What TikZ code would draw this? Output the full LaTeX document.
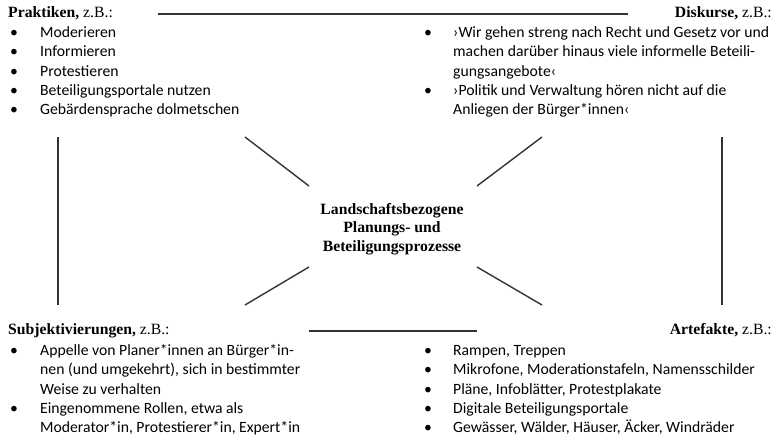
\documentclass[tikz,border=0pt]{standalone}
\usepackage{fontspec}
\setmainfont{Liberation Serif}
\newfontfamily\listfont{Carlito}
\usetikzlibrary{positioning}

\newcommand{\headline}[1]{\textbf{#1,} z.B.:}

\tikzset{
  head/.style={inner sep=0pt,font=\fontsize{15.7}{18.5}\selectfont},
  itemlist/.style={inner sep=0pt,anchor=base west,align=left,
    font=\listfont\fontsize{15.7}{19.3}\selectfont},
  link/.style={line width=1.4pt,black!80},
}

\begin{document}
\begin{tikzpicture}[x=1pt,y=-1pt]
  \useasboundingbox (0,0) rectangle (780,436);

  % Kopfzeilen der vier Ecken
  \node[head,anchor=base west] (prak) at (8,18) {\headline{Praktiken}};
  \node[head,anchor=base east] (disk) at (772,18) {\headline{Diskurse}};
  \node[head,anchor=base west] (subj) at (8,334) {\headline{Subjektivierungen}};
  \node[head,anchor=base east] (arte) at (772,334) {\headline{Artefakte}};

  % Listen
  \node[itemlist] (praklist) at (10,37.5) {\begin{tabular}[t]{@{}p{30pt}@{}l@{}}
    \textbullet & Moderieren\\
    \textbullet & Informieren\\
    \textbullet & Protestieren\\
    \textbullet & Beteiligungsportale nutzen\\
    \textbullet & Gebärdensprache dolmetschen
  \end{tabular}};
  \node[itemlist] (disklist) at (424,37.5) {\begin{tabular}[t]{@{}p{29pt}@{}l@{}}
    \textbullet & ›Wir gehen streng nach Recht und Gesetz vor und\\
                & machen darüber hinaus viele informelle Beteili-\\
                & gungsangebote‹\\
    \textbullet & ›Politik und Verwaltung hören nicht auf die\\
                & Anliegen der Bürger*innen‹
  \end{tabular}};
  \node[itemlist] (subjlist) at (10,355.5) {\begin{tabular}[t]{@{}p{30pt}@{}l@{}}
    \textbullet & Appelle von Planer*innen an Bürger*in-\\
                & nen (und umgekehrt), sich in bestimmter\\
                & Weise zu verhalten\\
    \textbullet & Eingenommene Rollen, etwa als\\
                & Moderator*in, Protestierer*in, Expert*in
  \end{tabular}};
  \node[itemlist] (artelist) at (424,355.5) {\begin{tabular}[t]{@{}p{29pt}@{}l@{}}
    \textbullet & Rampen, Treppen\\
    \textbullet & Mikrofone, Moderationstafeln, Namensschilder\\
    \textbullet & Pläne, Infoblätter, Protestplakate\\
    \textbullet & Digitale Beteiligungsportale\\
    \textbullet & Gewässer, Wälder, Häuser, Äcker, Windräder
  \end{tabular}};

  % Mitte
  \node[head,align=center,font=\bfseries\fontsize{15.7}{18.5}\selectfont] (mitte) at (392,229)
    {Landschaftsbezogene\\Planungs- und\\Beteiligungsprozesse};

  % Endpunkte der Verbindungen
  \coordinate (top-l) at (158,14);   \coordinate (top-r) at (628,14);
  \coordinate (bot-l) at (309,331);  \coordinate (bot-r) at (477,331);
  \coordinate (lft-t) at (58,137);   \coordinate (lft-b) at (58,305);
  \coordinate (rgt-t) at (722,137);  \coordinate (rgt-b) at (722,305);
  \coordinate (tl-o) at (245,137);   \coordinate (tl-i) at (309,186);
  \coordinate (tr-o) at (542,137);   \coordinate (tr-i) at (477,186);
  \coordinate (bl-o) at (245,305);   \coordinate (bl-i) at (309,267);
  \coordinate (br-o) at (542,305);   \coordinate (br-i) at (477,267);

  \draw[link] (top-l) -- (top-r);
  \draw[link] (bot-l) -- (bot-r);
  \draw[link] (lft-t) -- (lft-b);
  \draw[link] (rgt-t) -- (rgt-b);
  \foreach \c in {tl,tr,bl,br}
    \draw[link] (\c-o) -- (\c-i);
\end{tikzpicture}
\end{document}
